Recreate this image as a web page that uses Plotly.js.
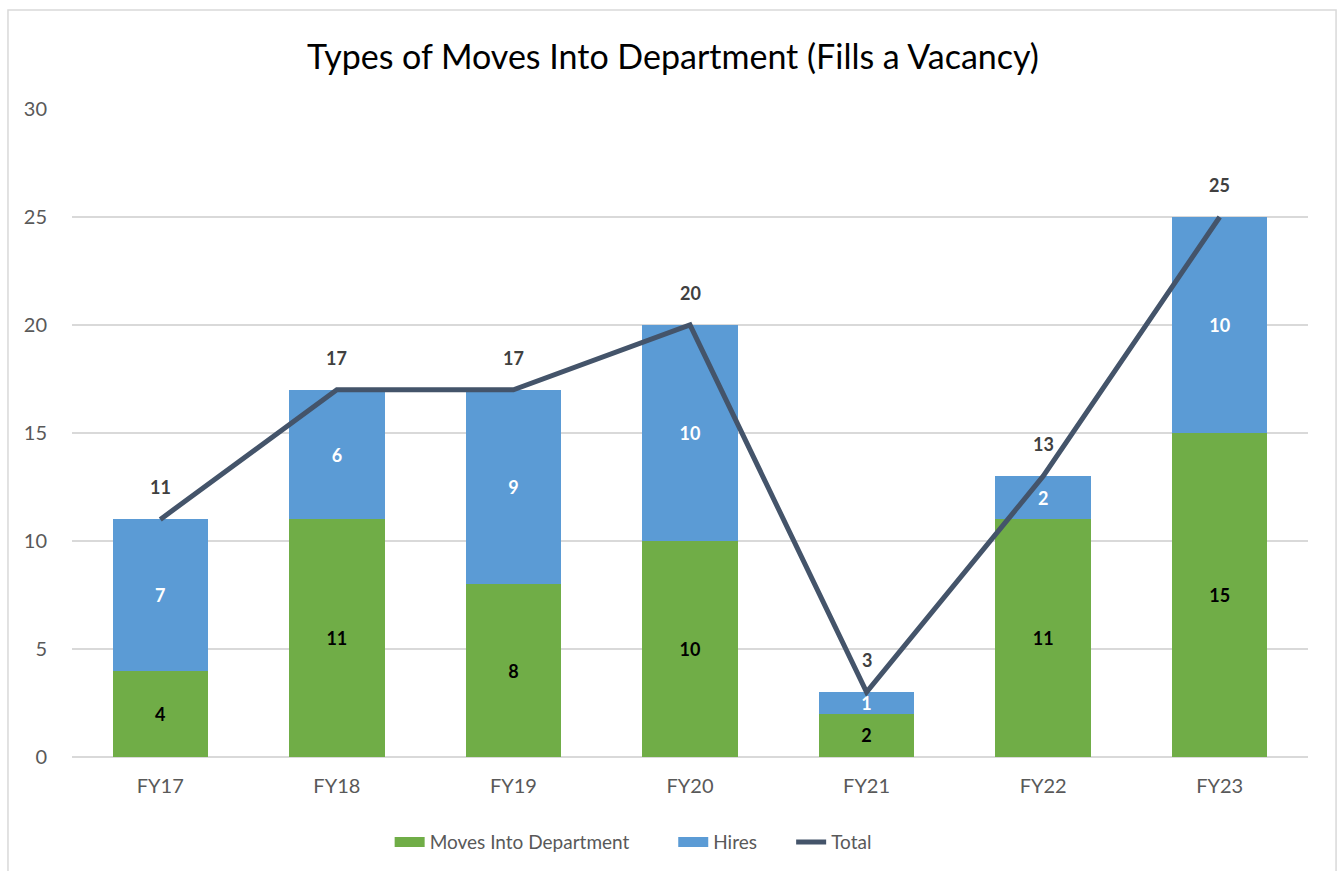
<!DOCTYPE html>
<html><head><meta charset="utf-8">
<script src="https://cdn.plot.ly/plotly-3.0.1.min.js"></script>
<style>body{margin:0;background:#fff}#c{width:1340px;height:871px}</style>
</head><body><div id="c"></div>
<script>
const categories = ["FY17","FY18","FY19","FY20","FY21","FY22","FY23"];
const moves = [4,11,8,10,2,11,15];
const hires = [7,6,9,10,1,2,10];
const totals = [11,17,17,20,3,13,25];
const seriesNames = ["Moves Into Department","Hires","Total"];
const seriesColors = ["#70AD47","#5B9BD5","#44546A"];

const FONT = "Lato, 'Open Sans', sans-serif";
const PAD1 = "\u00A0".repeat(8);
const PAD2 = "\u00A0".repeat(6);
const traces = [
  {type:'bar', name:seriesNames[0], x:categories, y:moves, marker:{color:seriesColors[0]}, showlegend:false,
   text:moves.map(String), textposition:'inside', insidetextanchor:'middle', constraintext:'none', textangle:0,
   textfont:{family:FONT, size:18, color:'#000000', weight:'bold'}, hoverinfo:'none'},
  {type:'bar', name:seriesNames[1], x:categories, y:hires, marker:{color:seriesColors[1]}, showlegend:false,
   text:hires.map(String), textposition:'inside', insidetextanchor:'middle', constraintext:'none', textangle:0,
   textfont:{family:FONT, size:18, color:'#FFFFFF', weight:'bold'}, hoverinfo:'none'},
  {type:'scatter', mode:'lines', name:seriesNames[2], x:categories, y:totals, showlegend:false,
   line:{color:seriesColors[2], width:5}, hoverinfo:'none'},
  // legend entries (no data, styled like the original legend keys)
  {type:'scatter', mode:'lines', name:seriesNames[0]+PAD1, x:[null], y:[null], line:{color:seriesColors[0], width:14}},
  {type:'scatter', mode:'lines', name:seriesNames[1]+PAD2, x:[null], y:[null], line:{color:seriesColors[1], width:14}},
  {type:'scatter', mode:'lines', name:seriesNames[2], x:[null], y:[null], line:{color:seriesColors[2], width:5}}
];
const annotations = categories.map((c,i)=>({x:c, y:totals[i], xref:'x', yref:'y', text:String(totals[i]),
  showarrow:false, yshift:32, font:{family:FONT, size:18, color:'#404040', weight:'bold'}}));
annotations.push({xref:'paper', yref:'paper', x:0.5, y:1.0, yanchor:'middle', yshift:54, xshift:-17,
  text:'Types of Moves Into Department (Fills a Vacancy)',
  showarrow:false, font:{family:FONT, size:34, color:'#000000'}});
const layout = {
  width:1340, height:871, barmode:'stack', bargap:0.46,
  margin:{l:72, r:32, t:109, b:114},
  paper_bgcolor:'#ffffff', plot_bgcolor:'#ffffff',
  font:{family:FONT, color:'#595959', size:18},
  xaxis:{tickfont:{size:20, color:'#595959'}, showline:false, ticks:'outside', ticklen:11, tickcolor:'rgba(0,0,0,0)',
         showgrid:false, fixedrange:true},
  yaxis:{range:[0,30], dtick:5, tickfont:{size:20, color:'#595959'}, gridcolor:'#D9D9D9', gridwidth:1.5,
         zeroline:true, zerolinecolor:'#D9D9D9', zerolinewidth:1.5, ticks:'outside', ticklen:20, tickcolor:'rgba(0,0,0,0)'},
  legend:{orientation:'h', x:0.257, xanchor:'left', yref:'container', y:0.055, yanchor:'top',
          font:{size:19, color:'#595959'}, traceorder:'normal'},
  uniformtext:{mode:'show', minsize:18},
  showlegend:true,
  annotations:annotations,
  shapes:[{type:'rect', xref:'paper', yref:'paper', x0:-0.0518, x1:1.0227, y0:-0.2, y1:1.1528,
           line:{color:'#D9D9D9', width:1.5}, fillcolor:'rgba(0,0,0,0)', layer:'below'}]
};
Plotly.newPlot('c', traces, layout, {displayModeBar:false, staticPlot:true});
</script></body></html>
